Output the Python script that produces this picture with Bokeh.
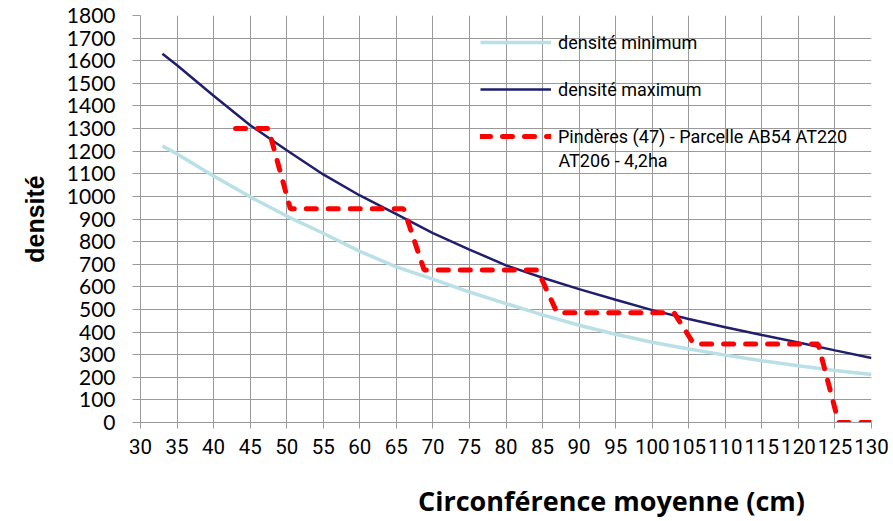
from bokeh.plotting import figure
from bokeh.models import Legend, LegendItem, FixedTicker, Label, Range1d, LinearAxis
from bokeh.embed import file_html
from bokeh.resources import INLINE

# circumference (cm) for the reference curves
circ = [33, 35, 40, 45, 50, 55, 60, 65, 70, 75, 80, 85, 90, 95, 100, 105, 110, 115, 120, 125, 130]
dens_min = [1223, 1188, 1090, 998, 913, 837, 757, 688, 634, 577, 526, 476, 430, 390, 355, 325, 298, 273, 251, 230, 212]
dens_max = [1631, 1580, 1445, 1315, 1204, 1097, 1004, 922, 838, 765, 695, 640, 590, 543, 497, 458, 421, 387, 354, 319, 285]

# parcel series (step profile)
parc_x = [43, 47.5, 50.5, 66, 68.8, 84.3, 87, 103, 105.7, 122.7, 125.5, 130]
parc_y = [1300, 1300, 945, 945, 675, 675, 485, 485, 347, 347, 0, 0]

x_ticks = list(range(30, 135, 5))
y_ticks = list(range(0, 1900, 100))

labels = ["densité minimum", "densité maximum", "Pindères (47) - Parcelle AB54 AT220", "AT206 - 4,2ha"]
x_title = "Circonférence moyenne (cm)"
y_title = "densité"

GRID = "#9a9a9a"
LEG_FONT = "Roboto"
LEG_SIZE = "18px"

p = figure(width=893, height=521, output_backend="svg", toolbar_location=None,
           x_range=Range1d(30, 130), y_range=Range1d(0, 1800),
           min_border_left=140, min_border_right=22, min_border_top=15, min_border_bottom=99)
p.outline_line_color = None
p.background_fill_color = "white"
p.border_fill_color = "white"

xt = FixedTicker(ticks=x_ticks)
yt = FixedTicker(ticks=y_ticks)
p.xaxis.ticker = xt
p.yaxis.ticker = yt
p.xgrid.ticker = xt
p.ygrid.ticker = yt
for g in (p.xgrid, p.ygrid):
    g.grid_line_color = GRID
    g.grid_line_width = 1

for ax in (p.xaxis, p.yaxis):
    ax.axis_line_color = GRID
    ax.major_tick_line_color = GRID
    ax.minor_tick_line_color = None
    ax.major_tick_in = 0
    ax.major_label_text_color = "black"

p.xaxis.major_tick_out = 6
p.xaxis.major_label_standoff = 10
p.xaxis.major_label_text_font = "Roboto"
p.xaxis.major_label_text_font_size = "20.5px"

p.yaxis.major_tick_out = 8
p.yaxis.major_label_standoff = 17
p.yaxis.major_label_text_font = "Lato"
p.yaxis.major_label_text_font_size = "21px"
p.yaxis.axis_label = y_title
p.yaxis.axis_label_text_font = "Liberation Sans"
p.yaxis.axis_label_text_font_style = "bold"
p.yaxis.axis_label_text_font_size = "25px"
p.yaxis.axis_label_text_color = "black"
p.yaxis.axis_label_standoff = 15

r_min = p.line(circ, dens_min, line_color="#B9E0E6", line_width=3.5)
r_max = p.line(circ, dens_max, line_color="#1F1F6E", line_width=2.5)
r_par = p.line(parc_x, parc_y, line_color="#FF0000", line_width=5,
               line_dash="10 12", line_cap="round")

legend = Legend(items=[LegendItem(label=labels[0], renderers=[r_min]),
                       LegendItem(label=labels[1], renderers=[r_max]),
                       LegendItem(label=labels[2], renderers=[r_par])],
                location=(340, 274), glyph_width=71, glyph_height=24,
                label_standoff=7, spacing=23, padding=0, margin=0,
                border_line_color=None, background_fill_alpha=0,
                label_text_font=LEG_FONT, label_text_font_size=LEG_SIZE,
                label_text_color="black", label_height=24)
p.add_layout(legend)

# second line of the third legend entry
p.add_layout(Label(text=labels[3], x=418, y=262, x_units="screen", y_units="screen",
                   text_font=LEG_FONT, text_font_size=LEG_SIZE, text_color="black",
                   text_baseline="middle", text_align="left"))

# x-axis title, placed right of centre as in the original: a tick-less helper axis
# whose single "tick label" is the title (pixel-based helper range over the frame width)
p.extra_x_ranges = {"title": Range1d(0, 731)}
tax = LinearAxis(x_range_name="title", ticker=FixedTicker(ticks=[471]),
                 major_label_overrides={471: x_title})
tax.axis_line_color = None
tax.major_tick_line_color = None
tax.minor_tick_line_color = None
tax.major_tick_out = 0
tax.major_tick_in = 0
tax.major_label_standoff = 25
tax.major_label_text_font = "Open Sans"
tax.major_label_text_font_style = "bold"
tax.major_label_text_font_size = "27px"
tax.major_label_text_color = "black"
p.add_layout(tax, "below")

open("out.html", "w").write(file_html(p, INLINE))
